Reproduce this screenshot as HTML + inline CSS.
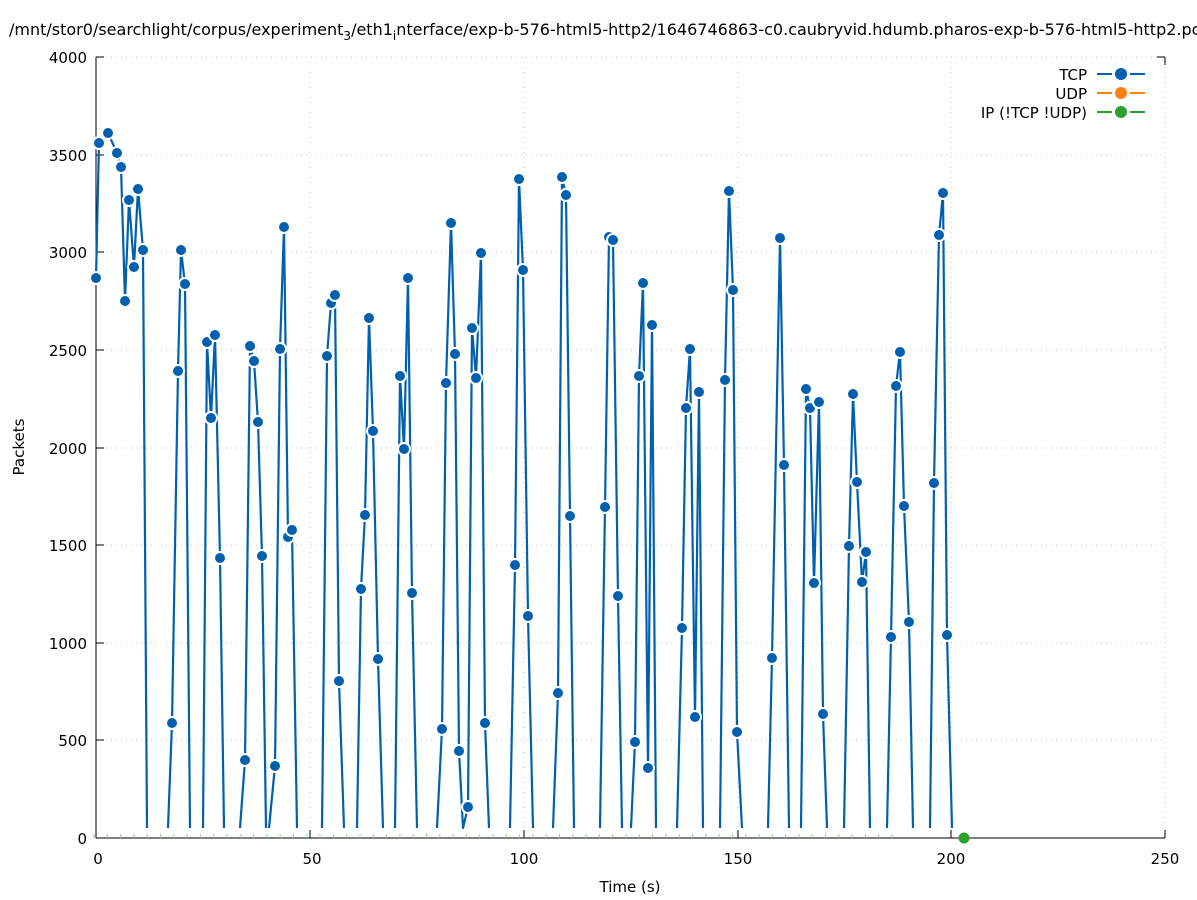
<!DOCTYPE html>
<html><head><meta charset="utf-8"><style>body{margin:0;background:#fff}svg{display:block;font-family:"DejaVu Sans","Liberation Sans",sans-serif}</style></head>
<body>
<svg width="1197" height="900" viewBox="0 0 1197 900" xmlns="http://www.w3.org/2000/svg">
<rect width="1197" height="900" fill="#fff"/>
<text x="9" y="35" font-size="16" fill="#000">/mnt/stor0/searchlight/corpus/experiment<tspan font-size="12" dy="5">3</tspan><tspan dy="-5">/eth1</tspan><tspan font-size="12" dy="5">i</tspan><tspan dy="-5">nterface/exp-b-576-html5-http2/1646746863-c0.caubryvid.hdumb.pharos-exp-b-576-html5-http2.pcap</tspan></text>
<g stroke="#c8c8c8" stroke-dasharray="1,4" stroke-width="1">
<line x1="96" y1="57" x2="1165" y2="57"/><line x1="96" y1="155" x2="1165" y2="155"/><line x1="96" y1="252" x2="1165" y2="252"/><line x1="96" y1="350" x2="1165" y2="350"/><line x1="96" y1="448" x2="1165" y2="448"/><line x1="96" y1="545" x2="1165" y2="545"/><line x1="96" y1="643" x2="1165" y2="643"/><line x1="96" y1="740" x2="1165" y2="740"/>
<line x1="310" y1="57" x2="310" y2="838"/><line x1="524" y1="57" x2="524" y2="838"/><line x1="738" y1="57" x2="738" y2="838"/><line x1="951" y1="57" x2="951" y2="838"/><line x1="1165" y1="57" x2="1165" y2="838"/>
</g>
<g stroke="#000" stroke-width="1">
<line x1="96" y1="57" x2="96" y2="838"/><line x1="96" y1="838" x2="1165" y2="838"/>
<line x1="96" y1="57" x2="104" y2="57"/><line x1="96" y1="155" x2="104" y2="155"/><line x1="96" y1="252" x2="104" y2="252"/><line x1="96" y1="350" x2="104" y2="350"/><line x1="96" y1="448" x2="104" y2="448"/><line x1="96" y1="545" x2="104" y2="545"/><line x1="96" y1="643" x2="104" y2="643"/><line x1="96" y1="740" x2="104" y2="740"/>
<line x1="1157" y1="57" x2="1165" y2="57"/><line x1="1165" y1="57" x2="1165" y2="65"/>
<line x1="310" y1="838" x2="310" y2="830"/><line x1="524" y1="838" x2="524" y2="830"/><line x1="738" y1="838" x2="738" y2="830"/><line x1="951" y1="838" x2="951" y2="830"/><line x1="1165" y1="838" x2="1165" y2="830"/>
</g>
<g font-size="15" fill="#000" text-anchor="end">
<text x="87" y="63">4000</text><text x="87" y="161">3500</text><text x="87" y="258">3000</text><text x="87" y="356">2500</text><text x="87" y="454">2000</text><text x="87" y="551">1500</text><text x="87" y="649">1000</text><text x="87" y="746">500</text><text x="87" y="844">0</text>
</g>
<g font-size="15" fill="#000" text-anchor="middle">
<text x="98" y="864">0</text><text x="312" y="864">50</text><text x="524" y="864">100</text><text x="738" y="864">150</text><text x="951" y="864">200</text><text x="1165" y="864">250</text>
<text x="630" y="892">Time (s)</text>
<text transform="translate(24,447) rotate(-90)">Packets</text>
</g>
<path fill="none" stroke="#8fd18f" stroke-width="1" d="M94 834v4m13.3 -4v4m13.3 -4v4m13.3 -4v4m13.3 -4v4m13.3 -4v4m13.3 -4v4m13.3 -4v4m13.3 -4v4m13.3 -4v4m13.3 -4v4m13.3 -4v4m13.3 -4v4m13.3 -4v4m13.3 -4v4m13.3 -4v4m13.3 -4v4m13.3 -4v4m13.3 -4v4m13.3 -4v4m13.3 -4v4m13.3 -4v4m13.3 -4v4m13.3 -4v4m13.3 -4v4m13.3 -4v4m13.3 -4v4m13.3 -4v4m13.3 -4v4m13.3 -4v4m13.3 -4v4m13.3 -4v4m13.3 -4v4m13.3 -4v4m13.3 -4v4m13.3 -4v4m13.3 -4v4m13.3 -4v4m13.3 -4v4m13.3 -4v4m13.3 -4v4m13.3 -4v4m13.3 -4v4m13.3 -4v4m13.3 -4v4m13.3 -4v4m13.3 -4v4m13.3 -4v4m13.3 -4v4m13.3 -4v4m13.3 -4v4m13.3 -4v4m13.3 -4v4m13.3 -4v4m13.3 -4v4m13.3 -4v4m13.3 -4v4m13.3 -4v4m13.3 -4v4m13.3 -4v4m13.3 -4v4"/>
<path fill="none" stroke="#0060ad" stroke-width="2.2" stroke-linejoin="round" d="
M96,278 L99,143 108,133 117,153 121,167 125,301 129,200 134,267 138,189 143,250 147,828
M168,828 L172,723 178,371 181,250 185,284 190,828
M203,828 L207,342 211,418 215,335 220,558 224,828
M240,828 L245,760 250,346 254,361 258,422 262,556 266,828
M269,828 L275,766 280,349 284,227 288,537 292,530 297,828
M322,828 L327,356 331,303 335,295 339,681 344,828
M357,828 L361,589 365,515 369,318 373,431 378,659 383,828
M395,828 L400,376 404,449 408,278 412,593 417,828
M437,828 L442,729 446,383 451,223 455,354 459,751 463,828 468,807 472,328 476,378 481,253 485,723 489,828
M510,828 L515,565 519,179 523,270 528,616 533,828
M553,828 L558,693 562,177 566,195 570,516 574,828
M600,828 L605,507 609,237 613,240 618,596 622,828
M631,828 L635,742 639,376 643,283 648,768 652,325 656,828
M677,828 L682,628 686,408 690,349 695,717 699,392 703,828
M720,828 L725,380 729,191 733,290 737,732 742,828
M768,828 L772,658 780,238 784,465 789,828
M801,828 L806,389 810,408 814,583 819,402 823,714 827,828
M844,828 L849,546 853,394 857,482 862,582 866,552 870,828
M887,828 L891,637 896,386 900,352 904,506 909,622 913,828
M930,828 L934,483 939,235 943,193 947,635 952,828"/>
<g fill="#0060ad" stroke="#fff" stroke-width="2">
<circle cx="96" cy="278" r="6"/><circle cx="99" cy="143" r="6"/><circle cx="108" cy="133" r="6"/><circle cx="117" cy="153" r="6"/><circle cx="121" cy="167" r="6"/><circle cx="125" cy="301" r="6"/><circle cx="129" cy="200" r="6"/><circle cx="134" cy="267" r="6"/><circle cx="138" cy="189" r="6"/><circle cx="143" cy="250" r="6"/>
<circle cx="172" cy="723" r="6"/><circle cx="178" cy="371" r="6"/><circle cx="181" cy="250" r="6"/><circle cx="185" cy="284" r="6"/>
<circle cx="207" cy="342" r="6"/><circle cx="211" cy="418" r="6"/><circle cx="215" cy="335" r="6"/><circle cx="220" cy="558" r="6"/>
<circle cx="245" cy="760" r="6"/><circle cx="250" cy="346" r="6"/><circle cx="254" cy="361" r="6"/><circle cx="258" cy="422" r="6"/><circle cx="262" cy="556" r="6"/>
<circle cx="275" cy="766" r="6"/><circle cx="280" cy="349" r="6"/><circle cx="284" cy="227" r="6"/><circle cx="288" cy="537" r="6"/><circle cx="292" cy="530" r="6"/>
<circle cx="327" cy="356" r="6"/><circle cx="331" cy="303" r="6"/><circle cx="335" cy="295" r="6"/><circle cx="339" cy="681" r="6"/>
<circle cx="361" cy="589" r="6"/><circle cx="365" cy="515" r="6"/><circle cx="369" cy="318" r="6"/><circle cx="373" cy="431" r="6"/><circle cx="378" cy="659" r="6"/>
<circle cx="400" cy="376" r="6"/><circle cx="404" cy="449" r="6"/><circle cx="408" cy="278" r="6"/><circle cx="412" cy="593" r="6"/>
<circle cx="442" cy="729" r="6"/><circle cx="446" cy="383" r="6"/><circle cx="451" cy="223" r="6"/><circle cx="455" cy="354" r="6"/><circle cx="459" cy="751" r="6"/><circle cx="468" cy="807" r="6"/><circle cx="472" cy="328" r="6"/><circle cx="476" cy="378" r="6"/><circle cx="481" cy="253" r="6"/><circle cx="485" cy="723" r="6"/>
<circle cx="515" cy="565" r="6"/><circle cx="519" cy="179" r="6"/><circle cx="523" cy="270" r="6"/><circle cx="528" cy="616" r="6"/>
<circle cx="558" cy="693" r="6"/><circle cx="562" cy="177" r="6"/><circle cx="566" cy="195" r="6"/><circle cx="570" cy="516" r="6"/>
<circle cx="605" cy="507" r="6"/><circle cx="609" cy="237" r="6"/><circle cx="613" cy="240" r="6"/><circle cx="618" cy="596" r="6"/>
<circle cx="635" cy="742" r="6"/><circle cx="639" cy="376" r="6"/><circle cx="643" cy="283" r="6"/><circle cx="648" cy="768" r="6"/><circle cx="652" cy="325" r="6"/>
<circle cx="682" cy="628" r="6"/><circle cx="686" cy="408" r="6"/><circle cx="690" cy="349" r="6"/><circle cx="695" cy="717" r="6"/><circle cx="699" cy="392" r="6"/>
<circle cx="725" cy="380" r="6"/><circle cx="729" cy="191" r="6"/><circle cx="733" cy="290" r="6"/><circle cx="737" cy="732" r="6"/>
<circle cx="772" cy="658" r="6"/><circle cx="780" cy="238" r="6"/><circle cx="784" cy="465" r="6"/>
<circle cx="806" cy="389" r="6"/><circle cx="810" cy="408" r="6"/><circle cx="814" cy="583" r="6"/><circle cx="819" cy="402" r="6"/><circle cx="823" cy="714" r="6"/>
<circle cx="849" cy="546" r="6"/><circle cx="853" cy="394" r="6"/><circle cx="857" cy="482" r="6"/><circle cx="862" cy="582" r="6"/><circle cx="866" cy="552" r="6"/>
<circle cx="891" cy="637" r="6"/><circle cx="896" cy="386" r="6"/><circle cx="900" cy="352" r="6"/><circle cx="904" cy="506" r="6"/><circle cx="909" cy="622" r="6"/>
<circle cx="934" cy="483" r="6"/><circle cx="939" cy="235" r="6"/><circle cx="943" cy="193" r="6"/><circle cx="947" cy="635" r="6"/>
</g>
<circle cx="964" cy="838" r="5.5" fill="#2ca02c"/>
<g font-size="15" fill="#000" text-anchor="end">
<text x="1087" y="80">TCP</text><text x="1087" y="99">UDP</text><text x="1087" y="118">IP (!TCP  !UDP)</text>
</g>
<g stroke-width="2">
<path d="M1097 74h15M1130 74h15" stroke="#0060ad"/><circle cx="1121" cy="74" r="6" fill="#0060ad"/>
<path d="M1097 93h15M1130 93h15" stroke="#ff7f0e"/><circle cx="1121" cy="93" r="6" fill="#ff7f0e"/>
<path d="M1097 112h15M1130 112h15" stroke="#2ca02c"/><circle cx="1121" cy="112" r="6" fill="#2ca02c"/>
</g>
</svg>
</body></html>
